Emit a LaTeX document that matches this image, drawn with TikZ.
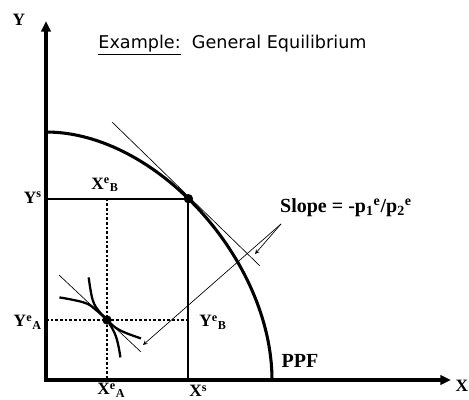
\documentclass[tikz,border=0pt]{standalone}
\usepackage{fontspec}
\setmainfont{Liberation Serif}
\newfontfamily\titlefont{DejaVu Sans}
\usetikzlibrary{arrows.meta}

\begin{document}
\begin{tikzpicture}[x=0.75pt, y=0.75pt, >=stealth,
    lab/.style={font=\fontsize{13}{15}\selectfont\bfseries, inner sep=0pt},
    biglab/.style={font=\fontsize{15}{17}\selectfont\bfseries, inner sep=0pt},
    guide/.style={line width=0.8pt, dash pattern=on 2pt off 1.5pt},
    thin line/.style={line width=0.5pt},
    indiff/.style={line width=1.7pt},
    dot/.style={circle, fill=black, inner sep=0pt, minimum size=7pt}]
    \useasboundingbox (0,0) rectangle (469,400);

    % --- Axes ---
    \coordinate (O) at (46,20);
    \coordinate (Ytop) at (46,379);
    \coordinate (Xend) at (451,20);
    \draw[line width=2.3pt, {Triangle[length=8pt,width=7pt]}-{Triangle[length=8pt,width=7pt]}]
        (Ytop) -- (O) -- (Xend);
    \node[lab] (ylab) at (19,380) {Y};
    \node[lab] (xlab) at (462,14) {X};

    % --- Title ---
    \node[font=\titlefont\fontsize{13.2}{15}\selectfont, anchor=base, inner sep=0pt] (title)
        at (232.5,351) {\underline{Example:}\ \ General Equilibrium};

    % --- PPF and the point of production E ---
    \coordinate (P0) at (46,268);
    \coordinate (P1) at (272,20);
    \draw[line width=2.3pt] (P0) .. controls (156,268) and (272,140) .. (P1)
        coordinate[pos=0.455] (E);
    \node[biglab] (ppf) at (300,39) {PPF};

    % Box of the Edgeworth diagram
    \draw[line width=1.4pt] (E) -- (E -| O);
    \draw[line width=1.4pt] (E) -- (E |- O);

    % Price line touching the PPF at E
    \coordinate (T1) at (112,278);
    \coordinate (T2) at (260,134);
    \draw[thin line] (T1) -- (T2);
    \node[dot] (Edot) at (E) {};

    % --- Allocation A inside the box ---
    \coordinate (A) at (107,80);
    \draw[guide] (A |- E) -- (A |- O);
    \draw[guide] (A -| O) -- (A -| E);

    % Indifference curves and price line through A
    \draw[indiff] plot[smooth, tension=0.7] coordinates
        {(59.4,102.6) (84.4,97.3) (96,90) (107,80) (119.4,70) (141,61.6)};
    \draw[indiff] plot[smooth, tension=0.7] coordinates
        {(88.7,122.6) (92.7,100) (99.4,88.3) (107,80) (116,63.3) (120.4,42.6)};
    \coordinate (S1) at (59,125);
    \coordinate (S2) at (141,48);
    \draw[thin line] (S1) -- (S2);
    \node[dot] (Adot) at (A) {};

    % --- Labels ---
    \node[lab, anchor=east] (ys) at (42,202) {Y\textsuperscript{s}};
    \node[lab] (xeb) at (105,215) {X\textsuperscript{e}\textsubscript{B}};
    \node[lab, anchor=base east] (yea) at (42,73) {Y\textsuperscript{e}\textsubscript{A}};
    \node[lab, anchor=base west] (yeb) at (199,73) {Y\textsuperscript{e}\textsubscript{B}};
    \node[lab, anchor=base west] (xea) at (97,5) {X\textsuperscript{e}\textsubscript{A}};
    \node[lab, anchor=base west] (xs) at (189,3) {X\textsuperscript{s}};

    % --- Slope label with its two pointers ---
    \node[biglab] (slope) at (346,192)
        {Slope = -p\textsubscript{1}\textsuperscript{e}/p\textsubscript{2}\textsuperscript{e}};
    \coordinate (s0) at (281,176);
    \coordinate (tipE) at (255,146);
    \coordinate (tipA) at (143,55);
    \draw[thin line, ->] (s0) -- (tipE);
    \draw[thin line, ->] (s0) -- (tipA);
\end{tikzpicture}
\end{document}
